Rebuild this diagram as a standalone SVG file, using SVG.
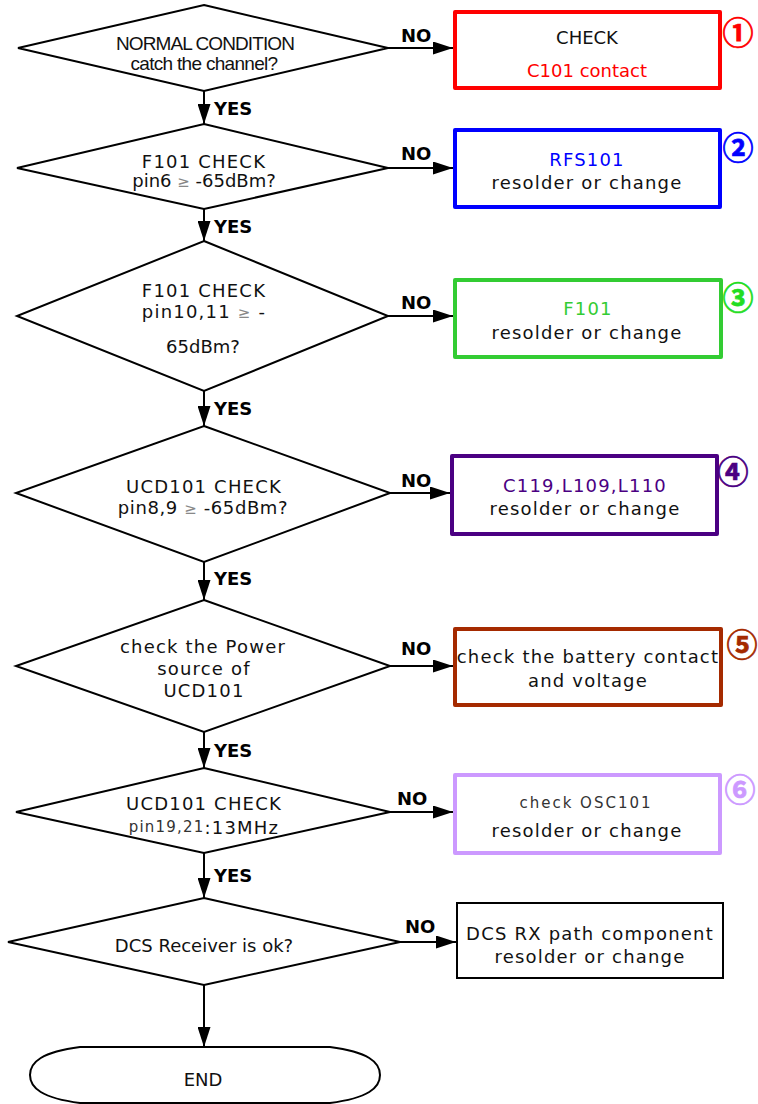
<svg xmlns="http://www.w3.org/2000/svg" width="758" height="1104" viewBox="0 0 758 1104">
<style>
.bg{fill:#fff}
.dia{fill:#fff;stroke:#000;stroke-width:2;stroke-linejoin:miter}
.box{fill:#fff;stroke-width:4;stroke-linejoin:round}
.t{font-family:"DejaVu Sans",sans-serif;font-size:18px;fill:#111;text-anchor:middle;letter-spacing:1.2px}
.n{font-family:"Liberation Sans",Arial,sans-serif;font-size:19px;fill:#111;text-anchor:middle}
.d{font-family:"DejaVu Sans",sans-serif;font-size:18px;fill:#111;text-anchor:middle}
.lbl{font-family:"DejaVu Sans",sans-serif;font-weight:bold;font-size:18px;fill:#000}
.num{font-family:"Noto Sans CJK JP",sans-serif;font-size:31px;font-weight:bold;text-anchor:middle;stroke-width:0.7px}
.ge{fill:#888;font-size:15px}
.con line{stroke:#000;stroke-width:2;marker-end:url(#ah)}
</style>
<defs>
<marker id="ah" viewBox="0 0 20 13" refX="20" refY="6.5" markerWidth="20" markerHeight="13" markerUnits="userSpaceOnUse" orient="auto">
<path d="M0,0 L20,6.5 L0,13 Z" fill="#000"/>
</marker>
</defs>
<rect class="bg" x="0" y="0" width="758" height="1104"/>

<g id="connectors" class="con">
<line x1="204" y1="91" x2="204" y2="124"/>
<line x1="204" y1="209" x2="204" y2="241"/>
<line x1="204" y1="391" x2="204" y2="426"/>
<line x1="204" y1="562" x2="204" y2="600"/>
<line x1="204" y1="732" x2="204" y2="768"/>
<line x1="204" y1="853" x2="204" y2="898"/>
<line x1="204" y1="985" x2="204" y2="1047"/>
<line x1="388" y1="48" x2="453" y2="48"/>
<line x1="388" y1="168" x2="453" y2="168"/>
<line x1="388" y1="316" x2="453" y2="316"/>
<line x1="390" y1="493" x2="450" y2="493"/>
<line x1="390" y1="666" x2="453" y2="666"/>
<line x1="390" y1="812" x2="453" y2="812"/>
<line x1="400" y1="942" x2="456" y2="942"/>
<text class="lbl" x="214" y="115">YES</text>
<text class="lbl" x="214" y="233">YES</text>
<text class="lbl" x="214" y="415">YES</text>
<text class="lbl" x="214" y="585">YES</text>
<text class="lbl" x="214" y="757">YES</text>
<text class="lbl" x="214" y="882">YES</text>
<text class="lbl" x="401" y="42">NO</text>
<text class="lbl" x="401" y="160">NO</text>
<text class="lbl" x="401" y="309">NO</text>
<text class="lbl" x="401" y="487">NO</text>
<text class="lbl" x="401" y="655">NO</text>
<text class="lbl" x="397" y="805">NO</text>
<text class="lbl" x="405" y="933">NO</text>
</g>

<g id="d1">
<polygon class="dia" points="204,5 388,48 204,91 18,48"/>
<text class="n" x="205" y="50" letter-spacing="-0.9">NORMAL CONDITION</text>
<text class="n" x="204" y="70" letter-spacing="-0.7">catch the channel?</text>
</g>
<g id="d2">
<polygon class="dia" points="204,124 388,168 204,209 17,168"/>
<text class="t" x="204" y="168">F101 CHECK</text>
<text class="d" x="204" y="187">pin6 <tspan class="ge">≥</tspan> -65dBm?</text>
</g>
<g id="d3">
<polygon class="dia" points="204,241 388,316 204,391 17,316"/>
<text class="t" x="204" y="297">F101 CHECK</text>
<text class="t" x="204" y="318">pin10,11 <tspan class="ge">≥</tspan> -</text>
<text class="d" x="203" y="353">65dBm?</text>
</g>
<g id="d4">
<polygon class="dia" points="204,426 390,493 204,562 16,493"/>
<text class="t" x="204" y="493">UCD101 CHECK</text>
<text class="d" x="203" y="514" letter-spacing="0.6">pin8,9 <tspan class="ge">≥</tspan> -65dBm?</text>
</g>
<g id="d5">
<polygon class="dia" points="204,600 390,666 204,732 16,666"/>
<text class="t" x="203" y="653">check the Power</text>
<text class="t" x="204" y="675">source of</text>
<text class="t" x="204" y="697">UCD101</text>
</g>
<g id="d6">
<polygon class="dia" points="204,768 390,812 204,853 16,812"/>
<text class="t" x="204" y="810">UCD101 CHECK</text>
<text class="t" x="204" y="834"><tspan font-size="15" fill="#333" dy="-2">pin19,21</tspan><tspan dy="2">:13MHz</tspan></text>
</g>
<g id="d7">
<polygon class="dia" points="204,898 400,942 204,985 8,942"/>
<text class="d" x="204" y="952">DCS Receiver is ok?</text>
</g>
<g id="end">
<path class="dia" d="M80,1047 L330,1047 C368,1052 380,1062 380,1075 C380,1088 368,1098 330,1103 L80,1103 C42,1098 30,1088 30,1075 C30,1062 42,1052 80,1047 Z"/>
<text class="d" x="203" y="1086">END</text>
</g>

<g id="b1">
<rect class="box" x="455" y="12" width="265" height="76" stroke="#ff0000"/>
<text class="d" x="587" y="44">CHECK</text>
<text class="d" x="587" y="77" style="fill:#ff0000">C101 contact</text>
<text class="num" x="738" y="44" fill="#ff0000" stroke="#ff0000">①</text>
</g>
<g id="b2">
<rect class="box" x="455" y="130" width="265" height="77" stroke="#0000ff"/>
<text class="t" x="587" y="166" style="fill:#0000ff">RFS101</text>
<text class="t" x="587" y="189">resolder or change</text>
<text class="num" x="738" y="159" fill="#0000ff" stroke="#0000ff">②</text>
</g>
<g id="b3">
<rect class="box" x="455" y="280" width="266" height="77" stroke="#33cc33"/>
<text class="t" x="588" y="315" style="fill:#33cc33">F101</text>
<text class="t" x="587" y="339">resolder or change</text>
<text class="num" x="738" y="309" fill="#22dd22" stroke="#22dd22">③</text>
</g>
<g id="b4">
<rect class="box" x="452" y="456" width="265" height="78" stroke="#4b0082"/>
<text class="t" x="585" y="492" style="fill:#4b0082">C119,L109,L110</text>
<text class="t" x="585" y="515">resolder or change</text>
<text class="num" x="733" y="483" fill="#4b0082" stroke="#4b0082">④</text>
</g>
<g id="b5">
<rect class="box" x="455" y="629" width="266" height="76" stroke="#a52a00"/>
<text class="t" x="588" y="663">check the battery contact</text>
<text class="t" x="588" y="687">and voltage</text>
<text class="num" x="742" y="656" fill="#a52a00" stroke="#a52a00">⑤</text>
</g>
<g id="b6">
<rect class="box" x="455" y="775" width="265" height="78" stroke="#cc99ff"/>
<text class="t" x="586" y="808" style="font-size:15px;letter-spacing:2px;fill:#333">check OSC101</text>
<text class="t" x="587" y="837">resolder or change</text>
<text class="num" x="740" y="801" fill="#cc99ff" stroke="#cc99ff">⑥</text>
</g>
<g id="b7">
<rect x="457" y="903" width="266" height="75" fill="#fff" stroke="#000" stroke-width="2"/>
<text class="t" x="590" y="940">DCS RX path component</text>
<text class="t" x="590" y="963">resolder or change</text>
</g>
</svg>
